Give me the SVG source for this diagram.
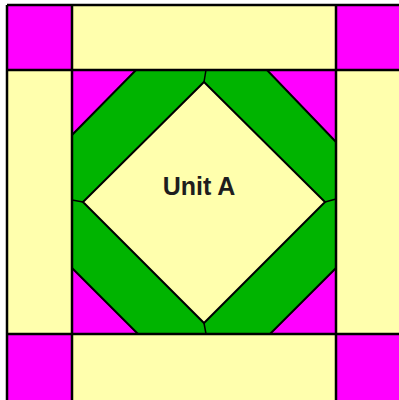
<svg xmlns="http://www.w3.org/2000/svg" width="399" height="400" viewBox="0 0 399 400">
<style>
.y{fill:#FFFFAD}
.m{fill:#FF00FF}
.g{fill:#00B400}
.e{stroke:#000;stroke-width:2;stroke-linejoin:miter}
.ln{stroke:#000;stroke-width:2.5;fill:none}
.sp{stroke:#000;stroke-width:1.5;fill:none}
.lbl{font-family:"Liberation Sans",Arial,sans-serif;font-weight:bold;font-size:25px;fill:#1E1E1E}
</style>
<rect width="399" height="400" fill="#fff"/>
<g id="border">
<rect class="y" x="7" y="5" width="392" height="395"/>
<rect class="y" x="72" y="5" width="264" height="65"/>
<rect class="y" x="72" y="334" width="264" height="66"/>
<rect class="y" x="7" y="70" width="65" height="264"/>
<rect class="y" x="336" y="70" width="63" height="264"/>
</g>
<g id="corners">
<rect class="m" x="7" y="5" width="65" height="65"/>
<rect class="m" x="336" y="5" width="63" height="65"/>
<rect class="m" x="7" y="334" width="65" height="66"/>
<rect class="m" x="336" y="334" width="63" height="66"/>
</g>
<g id="unit-a">
<rect class="m" x="72" y="70" width="264" height="264"/>
<polygon class="g e" points="136,70 267,70 336,142 336,268 270,334 138,334 72,268 72,135"/>
<polygon class="y e" points="204,82 325,202 204,323 83,202"/>
<line class="sp" x1="206" y1="70" x2="204" y2="82"/>
<line class="sp" x1="72" y1="200" x2="83" y2="202"/>
<line class="sp" x1="336" y1="199" x2="325" y2="202"/>
<line class="sp" x1="206" y1="334" x2="204" y2="323"/>
<text class="lbl" x="199" y="195" text-anchor="middle">Unit A</text>
</g>
<g id="connectors">
<line class="ln" x1="7" y1="5" x2="399" y2="5"/>
<line class="ln" x1="7" y1="5" x2="7" y2="400"/>
<line class="ln" x1="7" y1="70" x2="399" y2="70"/>
<line class="ln" x1="7" y1="334" x2="399" y2="334"/>
<line class="ln" x1="72" y1="5" x2="72" y2="400"/>
<line class="ln" x1="336" y1="5" x2="336" y2="400"/>
</g>
</svg>
